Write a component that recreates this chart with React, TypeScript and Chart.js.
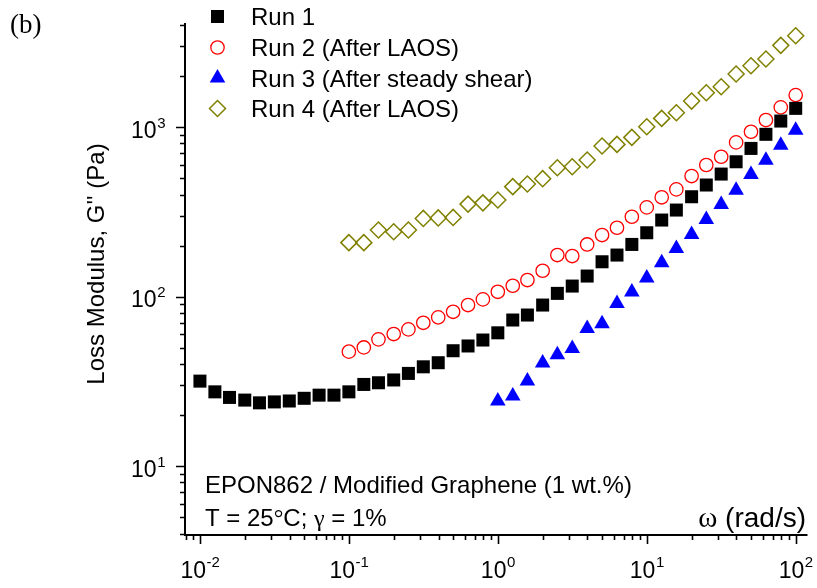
import React, { useEffect, useRef } from 'react';
import { Chart, registerables } from 'chart.js';
Chart.register(...registerables);

// angular frequency (rad/s)
const OMEGA = [
  0.01, 0.0126, 0.0158, 0.02, 0.0251, 0.0316, 0.0398, 0.0501, 0.0631, 0.0794,
  0.1, 0.126, 0.158, 0.2, 0.251, 0.316, 0.398, 0.501, 0.631, 0.794,
  1, 1.26, 1.58, 2, 2.51, 3.16, 3.98, 5.01, 6.31, 7.94,
  10, 12.6, 15.8, 20, 25.1, 31.6, 39.8, 50.1, 63.1, 79.4, 100,
];

// Loss modulus G'' (Pa)
const RUN1 = [
  31.7, 27.4, 25.4, 24.5, 23.6, 23.9, 24.2, 25.1, 26.2, 26.2,
  27.4, 30.3, 31.0, 32.2, 35.2, 38.5, 40.7, 47.9, 51.1, 55.4,
  61.1, 72.7, 77.8, 89.1, 104.4, 115.3, 132.1, 160.4, 175.7, 203,
  237.9, 282.7, 323.8, 388, 455, 528, 624, 748, 906, 1085, 1289,
];
const RUN2 = [
  47.3, 50.1, 55.9, 60.1, 64.0, 70.0, 75.4, 81.3, 89.1, 96.2,
  106.7, 115.8, 125.1, 142, 175.7, 173.4, 203, 230.6, 254.7, 295.7,
  335.9, 385, 429, 514, 597, 668, 812, 938, 1100, 1307, 1544,
];
const RUN3 = [
  24.2, 25.9, 31.8, 40.6, 45.4, 49.3, 64.7, 69.2, 90.9, 106.5,
  128.8, 158.5, 191.8, 232, 284.4, 348.6, 424, 525, 637, 781, 957,
];
const RUN4 = [
  208, 208, 247, 241, 247, 289, 291, 293, 351, 357,
  371, 445, 461, 496, 575, 583, 639, 773, 790, 869,
  1004, 1125, 1214, 1423, 1593, 1729, 2055, 2300, 2519, 3034, 3459,
];

const SERIES_LABELS = [
  'Run 1',
  'Run 2 (After LAOS)',
  'Run 3 (After steady shear)',
  'Run 4 (After LAOS)',
];

const X_MAJOR = [0.01, 0.1, 1, 10, 100];
const X_EXP = ['-2', '-1', '0', '1', '2'];
const Y_MAJOR = [10, 100, 1000];
const Y_EXP = ['1', '2', '3'];
const X_MIN = 0.008;
const X_MAX = 120;
const Y_MIN = 4;
const Y_MAX = 4000;

const Y_TITLE = "Loss Modulus, G'' (Pa)";
const NOTE_LINE1 = 'EPON862 / Modified Graphene (1 wt.%)';
const PANEL = '(b)';

const SANS = '"Liberation Sans", Arial, Helvetica, sans-serif';
const SERIF = '"Liberation Serif", "Times New Roman", Times, serif';

function pair(ys: number[]) {
  const off = OMEGA.length - ys.length;
  return ys.map((y, i) => ({ x: OMEGA[off + i], y }));
}

type Style = {
  pointStyle: string;
  r: number;
  fill: string | null;
  stroke: string | null;
  lw: number;
};

const STYLES: Style[] = [
  { pointStyle: 'rect', r: 9.2, fill: '#000000', stroke: null, lw: 0 },
  { pointStyle: 'circle', r: 6.7, fill: null, stroke: '#ff0000', lw: 1.3 },
  { pointStyle: 'triangle', r: 9, fill: '#0000ff', stroke: null, lw: 0 },
  { pointStyle: 'rectRot', r: 8, fill: null, stroke: '#808000', lw: 1.5 },
];

function drawMarker(ctx: CanvasRenderingContext2D, s: Style, x: number, y: number) {
  ctx.beginPath();
  const r = s.r;
  if (s.pointStyle === 'rect') {
    const h = Math.SQRT1_2 * r;
    ctx.rect(x - h, y - h, 2 * h, 2 * h);
  } else if (s.pointStyle === 'circle') {
    ctx.arc(x, y, r, 0, Math.PI * 2);
  } else if (s.pointStyle === 'triangle') {
    for (let i = 0; i < 3; i++) {
      const a = (i * 2 * Math.PI) / 3;
      const px = x + Math.sin(a) * r;
      const py = y - Math.cos(a) * r;
      if (i === 0) ctx.moveTo(px, py);
      else ctx.lineTo(px, py);
    }
    ctx.closePath();
  } else {
    ctx.moveTo(x - r, y);
    ctx.lineTo(x, y - r);
    ctx.lineTo(x + r, y);
    ctx.lineTo(x, y + r);
    ctx.closePath();
  }
  if (s.fill) {
    ctx.fillStyle = s.fill;
    ctx.fill();
  }
  if (s.stroke) {
    ctx.strokeStyle = s.stroke;
    ctx.lineWidth = s.lw;
    ctx.stroke();
  }
}

// draws a sequence of [text, font] runs starting at x, returns end x
function drawRuns(ctx: CanvasRenderingContext2D, runs: [string, string][], x: number, y: number) {
  let cx = x;
  ctx.textAlign = 'left';
  ctx.textBaseline = 'alphabetic';
  for (const [t, f] of runs) {
    ctx.font = f;
    ctx.fillText(t, cx, y);
    cx += ctx.measureText(t).width;
  }
  return cx;
}

const BASE_FONT = `23px ${SANS}`;
const SUP_FONT = `15px ${SANS}`;

const decorPlugin = {
  id: 'decor',
  afterDraw(chart: any) {
    const { ctx, chartArea: ca, scales } = chart;
    const xs = scales.x;
    const ys = scales.y;
    ctx.save();
    ctx.fillStyle = '#000';
    ctx.strokeStyle = '#000';
    ctx.lineWidth = 2;
    const ax = ca.left - 0.5;
    const ay = ca.bottom + 1.5;
    // axis lines
    ctx.beginPath();
    ctx.moveTo(ax, ca.top - 2);
    ctx.lineTo(ax, ay + 1);
    ctx.moveTo(ax - 1, ay);
    ctx.lineTo(ca.right, ay);
    ctx.stroke();

    // ticks
    ctx.lineWidth = 1.6;
    ctx.beginPath();
    for (let e = -3; e <= 2; e++) {
      for (let m = 1; m <= 9; m++) {
        const v = m * Math.pow(10, e);
        if (v < X_MIN * 0.999 || v > X_MAX * 1.001) continue;
        const px = Math.round(xs.getPixelForValue(v)) + 0.5;
        const len = m === 1 ? 9 : 5;
        ctx.moveTo(px, ay);
        ctx.lineTo(px, ay + len);
      }
    }
    for (let e = 0; e <= 3; e++) {
      for (let m = 1; m <= 9; m++) {
        const v = m * Math.pow(10, e);
        if (v < Y_MIN * 0.999 || v > Y_MAX * 1.001) continue;
        const py = Math.round(ys.getPixelForValue(v)) + 0.5;
        const len = m === 1 ? 9 : 5;
        ctx.moveTo(ax, py);
        ctx.lineTo(ax - len, py);
      }
    }
    ctx.stroke();

    // x tick labels
    X_MAJOR.forEach((v, i) => {
      const px = xs.getPixelForValue(v);
      ctx.font = BASE_FONT;
      const w1 = ctx.measureText('10').width;
      ctx.font = SUP_FONT;
      const w2 = ctx.measureText(X_EXP[i]).width;
      const start = px - (w1 + w2) / 2;
      ctx.textAlign = 'left';
      ctx.textBaseline = 'alphabetic';
      ctx.font = BASE_FONT;
      ctx.fillText('10', start, 578);
      ctx.font = SUP_FONT;
      ctx.fillText(X_EXP[i], start + w1 + 0.5, 567);
    });

    // y tick labels
    Y_MAJOR.forEach((v, i) => {
      const py = ys.getPixelForValue(v);
      ctx.font = BASE_FONT;
      const w1 = ctx.measureText('10').width;
      ctx.font = SUP_FONT;
      const w2 = ctx.measureText(Y_EXP[i]).width;
      const right = 165;
      const start = right - w1 - w2;
      ctx.textAlign = 'left';
      ctx.textBaseline = 'alphabetic';
      ctx.font = BASE_FONT;
      ctx.fillText('10', start, py + 10.5);
      ctx.font = SUP_FONT;
      ctx.fillText(Y_EXP[i], start + w1 + 0.5, py + 0.5);
    });

    // y axis title
    ctx.save();
    ctx.translate(104, 264);
    ctx.rotate(-Math.PI / 2);
    ctx.font = `24px ${SANS}`;
    ctx.textAlign = 'center';
    ctx.textBaseline = 'alphabetic';
    ctx.fillText(Y_TITLE, 0, 0);
    ctx.restore();

    // x axis title (right aligned at 806)
    {
      ctx.font = `29px ${SERIF}`;
      const wOm = ctx.measureText('\u03c9').width;
      ctx.font = `28px ${SANS}`;
      const wRest = ctx.measureText(' (rad/s)').width;
      drawRuns(ctx, [['\u03c9', `29px ${SERIF}`], [' (rad/s)', `28px ${SANS}`]], 806 - wOm - wRest, 527);
    }

    // annotation
    drawRuns(ctx, [[NOTE_LINE1, `24px ${SANS}`]], 205, 493);
    drawRuns(
      ctx,
      [
        ['T = 25', `24px ${SANS}`],
        ['\u00b0', `24px ${SERIF}`],
        ['C; ', `24px ${SANS}`],
        ['\u03b3', `24px ${SERIF}`],
        [' = 1%', `24px ${SANS}`],
      ],
      205,
      526
    );

    // panel label
    drawRuns(ctx, [[PANEL, `27px ${SERIF}`]], 10, 33);

    // legend
    const rows = [16.5, 47.5, 78, 108.5];
    SERIES_LABELS.forEach((lab, i) => {
      drawMarker(ctx, STYLES[i], 217.5, rows[i]);
      ctx.fillStyle = '#000';
      drawRuns(ctx, [[lab, `24px ${SANS}`]], 251, rows[i] + 8.5);
    });

    ctx.restore();
  },
};

export default function App() {
  const ref = useRef<HTMLCanvasElement>(null);
  useEffect(() => {
    document.body.style.margin = '0';
    const canvas = ref.current!;
    const series = [RUN1, RUN2, RUN3, RUN4];
    const chart = new Chart(canvas, {
      type: 'scatter',
      data: {
        datasets: series.map((ys, i) => {
          const s = STYLES[i];
          return {
            label: SERIES_LABELS[i],
            data: pair(ys),
            showLine: false,
            pointStyle: s.pointStyle as any,
            pointRadius: s.r,
            pointHoverRadius: s.r,
            backgroundColor: s.fill ?? 'rgba(0,0,0,0)',
            borderColor: s.stroke ?? s.fill ?? '#000',
            borderWidth: s.lw,
            pointBorderWidth: s.lw,
            clip: false as any,
          };
        }),
      },
      options: {
        animation: false,
        responsive: true,
        maintainAspectRatio: false,
        events: [],
        layout: { padding: { left: 185.5, right: 9, top: 25, bottom: 54.5 } },
        plugins: {
          legend: { display: false },
          tooltip: { enabled: false },
        },
        scales: {
          x: { type: 'logarithmic', min: X_MIN, max: X_MAX, display: false },
          y: { type: 'logarithmic', min: Y_MIN, max: Y_MAX, display: false },
        },
      },
      plugins: [decorPlugin],
    });
    return () => chart.destroy();
  }, []);
  return (
    <div style={{ width: 817, height: 588, position: 'relative', background: '#fff' }}>
      <canvas ref={ref} />
    </div>
  );
}
